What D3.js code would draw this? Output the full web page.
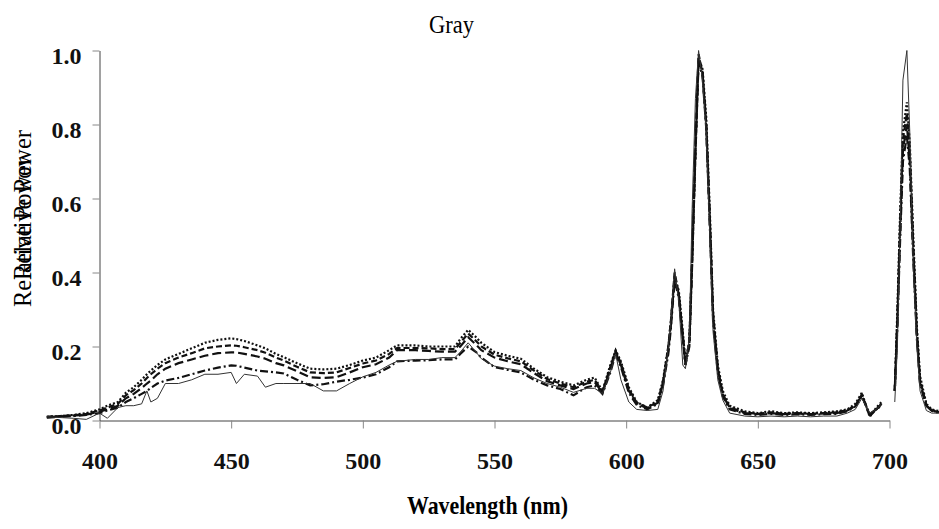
<!DOCTYPE html>
<html>
<head>
<meta charset="utf-8">
<script src="https://cdn.jsdelivr.net/npm/d3@7"></script>
<style>
  body { margin: 0; background: #fff; }
  svg { display: block; font-family: "Liberation Serif", "Times New Roman", serif; }
</style>
</head>
<body>
<svg id="chart" width="939" height="529"></svg>
<script>
// spectral power, normalised - 1 solid + 4 dashed runs
const wavelength = [
  380, 385, 390, 395, 400, 403, 407, 410, 413, 416, 418, 419.5, 422,
  425, 430, 435, 440, 445, 450, 452, 455, 460, 463, 467, 470, 475,
  480, 485, 490, 495, 500, 505, 510, 513, 520, 525, 530, 535, 537,
  540, 543, 545, 550, 555, 560, 565, 570, 575, 580, 585, 588, 591,
  594, 596, 598, 601, 604, 608, 612, 614, 616, 617, 618.4, 620, 621.5,
  622.5, 624, 625, 626.3, 627.5, 629, 630.4, 631.7, 633, 634.8, 636.7, 639.3, 645,
  650, 655, 660, 665, 670, 675, 680, 684, 687, 689.5, 692.5, 695, 697,
  700, 702, 703, 704, 705.1, 706.6, 707.7, 709, 710.4, 711.6, 714, 716, 719
];

const solid = [
  0.010, 0.008, 0.006, 0.003, 0.020, 0.006, 0.035, 0.040, 0.040, 0.045, 0.080, 0.050, 0.060,
  0.100, 0.100, 0.110, 0.125, 0.125, 0.130, 0.100, 0.125, 0.120, 0.090, 0.100, 0.100, 0.100,
  0.100, 0.080, 0.080, 0.100, 0.118, 0.130, 0.150, 0.160, 0.165, 0.165, 0.170, 0.170, 0.185,
  0.210, 0.185, 0.167, 0.147, 0.140, 0.135, 0.115, 0.100, 0.090, 0.076, 0.087, 0.087, 0.073,
  0.130, 0.180, 0.110, 0.050, 0.030, 0.027, 0.030, 0.080, 0.200, 0.270, 0.410, 0.320, 0.150,
  0.140, 0.225, 0.560, 0.870, 1.000, 0.920, 0.780, 0.510, 0.240, 0.110, 0.055, 0.020, 0.012,
  0.010, 0.012, 0.010, 0.012, 0.010, 0.012, 0.012, 0.020, 0.030, 0.060, 0.020, 0.030, 0.045,
  null, 0.050, 0.200, 0.510, 0.920, 1.000, 0.780, 0.420, 0.200, 0.080, 0.027, 0.020, 0.020
];

const dash1 = [
  0.010, 0.012, 0.015, 0.020, 0.030, 0.040, 0.050, 0.075, 0.090, 0.110, 0.125, 0.135, 0.150,
  0.165, 0.180, 0.195, 0.210, 0.218, 0.222, 0.220, 0.215, 0.203, 0.195, 0.180, 0.171, 0.155,
  0.140, 0.138, 0.140, 0.150, 0.162, 0.170, 0.190, 0.203, 0.203, 0.200, 0.200, 0.200, 0.220,
  0.245, 0.225, 0.210, 0.185, 0.175, 0.167, 0.140, 0.117, 0.105, 0.095, 0.110, 0.116, 0.080,
  0.150, 0.190, 0.160, 0.090, 0.050, 0.035, 0.055, 0.110, 0.200, 0.270, 0.390, 0.350, 0.240,
  0.160, 0.216, 0.420, 0.720, 0.980, 0.950, 0.820, 0.580, 0.300, 0.150, 0.080, 0.040, 0.025,
  0.020, 0.025, 0.020, 0.022, 0.020, 0.022, 0.025, 0.030, 0.045, 0.075, 0.010, 0.035, 0.050,
  null, 0.080, 0.300, 0.550, 0.780, 0.860, 0.750, 0.500, 0.250, 0.120, 0.045, 0.030, 0.025
];

const dash2 = [
  0.010, 0.012, 0.014, 0.018, 0.027, 0.035, 0.045, 0.068, 0.082, 0.100, 0.115, 0.125, 0.140,
  0.155, 0.170, 0.182, 0.195, 0.200, 0.203, 0.202, 0.198, 0.190, 0.183, 0.170, 0.162, 0.145,
  0.130, 0.128, 0.130, 0.142, 0.154, 0.162, 0.180, 0.196, 0.196, 0.195, 0.193, 0.193, 0.210,
  0.235, 0.215, 0.200, 0.178, 0.168, 0.160, 0.135, 0.112, 0.100, 0.090, 0.105, 0.110, 0.078,
  0.145, 0.188, 0.155, 0.085, 0.048, 0.035, 0.050, 0.105, 0.200, 0.270, 0.400, 0.340, 0.230,
  0.155, 0.210, 0.430, 0.740, 0.990, 0.940, 0.800, 0.560, 0.290, 0.140, 0.070, 0.035, 0.022,
  0.018, 0.022, 0.018, 0.020, 0.018, 0.020, 0.022, 0.028, 0.040, 0.070, 0.012, 0.030, 0.045,
  null, 0.080, 0.280, 0.530, 0.760, 0.830, 0.730, 0.480, 0.240, 0.110, 0.040, 0.028, 0.022
];

const dash3 = [
  0.009, 0.011, 0.013, 0.016, 0.024, 0.030, 0.040, 0.060, 0.072, 0.088, 0.100, 0.108, 0.125,
  0.140, 0.155, 0.165, 0.175, 0.182, 0.184, 0.184, 0.180, 0.173, 0.167, 0.155, 0.149, 0.133,
  0.117, 0.115, 0.117, 0.130, 0.144, 0.152, 0.170, 0.190, 0.190, 0.188, 0.186, 0.186, 0.200,
  0.225, 0.205, 0.190, 0.170, 0.160, 0.152, 0.128, 0.106, 0.095, 0.085, 0.100, 0.104, 0.075,
  0.140, 0.185, 0.150, 0.080, 0.045, 0.033, 0.048, 0.100, 0.190, 0.260, 0.390, 0.340, 0.230,
  0.150, 0.210, 0.420, 0.730, 0.980, 0.940, 0.800, 0.550, 0.280, 0.140, 0.070, 0.033, 0.020,
  0.017, 0.020, 0.017, 0.019, 0.017, 0.019, 0.020, 0.027, 0.040, 0.068, 0.015, 0.030, 0.045,
  null, 0.080, 0.270, 0.500, 0.730, 0.800, 0.700, 0.460, 0.230, 0.100, 0.040, 0.027, 0.022
];

const dash4 = [
  0.008, 0.010, 0.012, 0.015, 0.020, 0.027, 0.035, 0.050, 0.060, 0.072, 0.080, 0.088, 0.100,
  0.108, 0.115, 0.125, 0.135, 0.143, 0.149, 0.148, 0.143, 0.135, 0.133, 0.130, 0.127, 0.110,
  0.095, 0.098, 0.105, 0.110, 0.116, 0.125, 0.144, 0.160, 0.162, 0.163, 0.165, 0.165, 0.180,
  0.200, 0.185, 0.170, 0.144, 0.137, 0.130, 0.110, 0.095, 0.085, 0.068, 0.090, 0.095, 0.072,
  0.130, 0.180, 0.145, 0.075, 0.042, 0.030, 0.045, 0.095, 0.180, 0.250, 0.380, 0.330, 0.220,
  0.150, 0.200, 0.410, 0.720, 0.970, 0.930, 0.790, 0.540, 0.270, 0.130, 0.065, 0.030, 0.018,
  0.015, 0.018, 0.015, 0.017, 0.015, 0.017, 0.018, 0.025, 0.038, 0.065, 0.018, 0.030, 0.040,
  null, 0.080, 0.260, 0.480, 0.700, 0.770, 0.680, 0.440, 0.220, 0.100, 0.040, 0.026, 0.020
];

const xTicks = [400, 450, 500, 550, 600, 650, 700];
const yTicks = [0, 0.2, 0.4, 0.6, 0.8, 1.0];

const svg = d3.select("#chart");

const x = d3.scaleLinear().domain([400, 700]).range([99.5, 889.5]);
const y = d3.scaleLinear().domain([0, 1]).range([420.5, 50.5]);

// axes
const xAxis = svg.append("g")
  .attr("transform", `translate(0,${y(0)})`)
  .call(d3.axisBottom(x).tickValues(xTicks).tickSize(8).tickSizeOuter(0).tickPadding(24));
const yAxis = svg.append("g")
  .attr("transform", `translate(${x(400)},0)`)
  .call(d3.axisLeft(y).tickValues(yTicks).tickSize(7).tickSizeOuter(0).tickPadding(11).tickFormat(d3.format(".1f")));

[xAxis, yAxis].forEach(a => {
  a.select(".domain").attr("stroke", "#444");
  a.selectAll(".tick line").attr("stroke", "#888");
  a.selectAll(".tick text")
    .attr("fill", "#111")
    .style("font-family", "'Liberation Serif', serif")
    .style("font-weight", "bold")
    .style("font-size", "24px");
});
yAxis.selectAll(".tick text").attr("dy", "0.55em");
xAxis.selectAll(".tick text").attr("dy", "0.68em");

// lines
const series = [
  { values: dash1, dash: "2,2",      width: 2.2, color: "#111" },
  { values: dash2, dash: "6,3",      width: 2.2, color: "#111" },
  { values: dash3, dash: "9,4",      width: 2.2, color: "#111" },
  { values: dash4, dash: "8,3,2,3",  width: 2.2, color: "#111" },
  { values: solid, dash: null,       width: 1,   color: "#333" }
];

const line = d3.line()
  .defined(d => d[1] != null)
  .x(d => x(d[0]))
  .y(d => y(d[1]));

series.forEach(s => {
  svg.append("path")
    .datum(wavelength.map((w, i) => [w, s.values[i]]))
    .attr("fill", "none")
    .attr("stroke", s.color)
    .attr("stroke-width", s.width)
    .attr("stroke-dasharray", s.dash)
    .attr("d", line);
});

// texts (condensed like the original)
svg.append("text")
  .attr("x", 429).attr("y", 33)
  .attr("textLength", 45).attr("lengthAdjust", "spacingAndGlyphs")
  .style("font-size", "25px")
  .text("Gray");

svg.append("text")
  .attr("x", 407).attr("y", 514)
  .attr("textLength", 161).attr("lengthAdjust", "spacingAndGlyphs")
  .style("font-size", "26px")
  .style("font-weight", "bold")
  .text("Wavelength (nm)");

svg.append("text")
  .attr("transform", "translate(31,307) rotate(-90)")
  .attr("textLength", 150).attr("lengthAdjust", "spacingAndGlyphs")
  .style("font-size", "25px")
  .text("Relative Power");
svg.append("text")
  .attr("transform", "translate(31,280) rotate(-90)")
  .attr("textLength", 150).attr("lengthAdjust", "spacingAndGlyphs")
  .style("font-size", "25px")
  .text("Relative Power");
</script>
</body>
</html>
